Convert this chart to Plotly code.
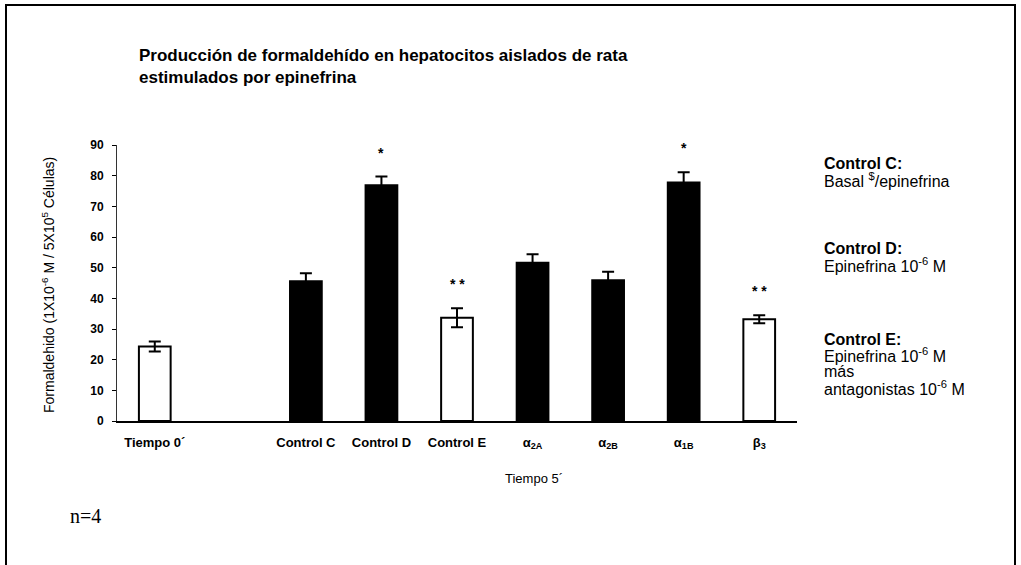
import plotly.graph_objects as go

categories = ["Tiempo 0´", " ", "Control C", "Control D", "Control E",
              "α<sub>2A</sub>", "α<sub>2B</sub>", "α<sub>1B</sub>", "β<sub>3</sub>"]
bar_categories = ["Tiempo 0´", "Control C", "Control D", "Control E",
                  "α<sub>2A</sub>", "α<sub>2B</sub>", "α<sub>1B</sub>", "β<sub>3</sub>"]
values = [24.3, 45.6, 76.9, 33.7, 51.6, 45.9, 77.8, 33.2]
errors = [1.6, 2.6, 2.8, 3.1, 2.8, 2.8, 3.3, 1.3]
fill_colors = ["white", "black", "black", "white", "black", "black", "black", "white"]
significance = ["", "", "*", "* *", "", "", "*", "* *"]
y_ticks = [0, 10, 20, 30, 40, 50, 60, 70, 80, 90]

PL, PR, PT, PB = 117, 797, 145, 421
W, H = 1021, 565


def px(x):
    return (x - PL) / (PR - PL)


def py(y):
    return (PB - y) / (PB - PT)


fig = go.Figure()
fig.add_trace(go.Bar(
    x=bar_categories, y=values,
    marker=dict(color=fill_colors, line=dict(color="black", width=2)),
    width=0.42,
    error_y=dict(type="data", array=errors, visible=True, color="black",
                 thickness=2, width=6),
    showlegend=False, hoverinfo="x+y",
))

font_main = "Arial, Liberation Sans, sans-serif"

annotations = []
for cat, v, e, s in zip(bar_categories, values, errors, significance):
    if s:
        annotations.append(dict(x=cat, y=v + e, xref="x", yref="y", text=s,
                                showarrow=False, yshift=24,
                                font=dict(family=font_main, size=14, color="black", weight="bold")))

annotations += [
    dict(x=px(137), y=py(55), xref="paper", yref="paper", xanchor="left", yanchor="middle",
         align="left", showarrow=False,
         text="Producción de formaldehído en hepatocitos aislados de rata",
         font=dict(family=font_main, size=17, color="black", weight="bold")),
    dict(x=px(137), y=py(77), xref="paper", yref="paper", xanchor="left", yanchor="middle",
         align="left", showarrow=False,
         text="estimulados por epinefrina",
         font=dict(family=font_main, size=17, color="black", weight="bold")),
    dict(x=(px(308) + px(760)) / 2, y=py(478), xref="paper", yref="paper",
         xanchor="center", yanchor="middle", showarrow=False, text="Tiempo 5´",
         font=dict(family=font_main, size=13, color="black")),
    dict(x=px(48), y=py(285), xref="paper", yref="paper", xanchor="center", yanchor="middle",
         showarrow=False, textangle=-90,
         text="Formaldehido (1X10<sup>-6</sup> M / 5X10<sup>5</sup> Células)",
         font=dict(family=font_main, size=14, color="black")),
    dict(x=px(68), y=py(516), xref="paper", yref="paper", xanchor="left", yanchor="middle",
         showarrow=False, text="n=4",
         font=dict(family="Liberation Serif, Times New Roman, serif", size=20, color="black")),
]

side_lines = [
    (163, "<b>Control C:</b>"),
    (180, "Basal <sup>$</sup>/epinefrina"),
    (248, "<b>Control D:</b>"),
    (265, "Epinefrina 10<sup>-6</sup> M"),
    (339, "<b>Control E:</b>"),
    (355, "Epinefrina 10<sup>-6</sup> M"),
    (371, "más"),
    (388, "antagonistas 10<sup>-6</sup> M"),
]
for yy, txt in side_lines:
    annotations.append(dict(x=px(822), y=py(yy), xref="paper", yref="paper",
                            xanchor="left", yanchor="middle", align="left",
                            showarrow=False, text=txt,
                            font=dict(family=font_main, size=16, color="black")))

fig.update_layout(
    width=W, height=H, autosize=False,
    margin=dict(l=PL, r=W - PR, t=PT, b=H - PB, pad=0),
    paper_bgcolor="white", plot_bgcolor="white",
    annotations=annotations,
    shapes=[dict(type="rect", xref="paper", yref="paper",
                 x0=px(6), x1=px(1015), y0=py(580), y1=py(5),
                 line=dict(color="black", width=2), fillcolor="rgba(0,0,0,0)", layer="below")],
    xaxis=dict(type="category", categoryorder="array", categoryarray=categories,
               range=[-0.5, 8.5], showgrid=False, zeroline=False,
               showline=True, linecolor="black", linewidth=2, ticks="",
               ticklabelstandoff=8,
               tickfont=dict(family=font_main, size=13, color="black", weight="bold"),
               fixedrange=True),
    yaxis=dict(range=[0, 90], tickvals=y_ticks, showgrid=False, zeroline=False,
               showline=True, linecolor="#333", linewidth=1, ticks="outside",
               ticklen=4, tickcolor="black", ticklabelstandoff=6,
               tickfont=dict(family=font_main, size=12, color="black", weight="bold"),
               fixedrange=True),
)

fig.write_html("out.html", config={"displayModeBar": False},
               post_script="document.body.style.margin='0';")
